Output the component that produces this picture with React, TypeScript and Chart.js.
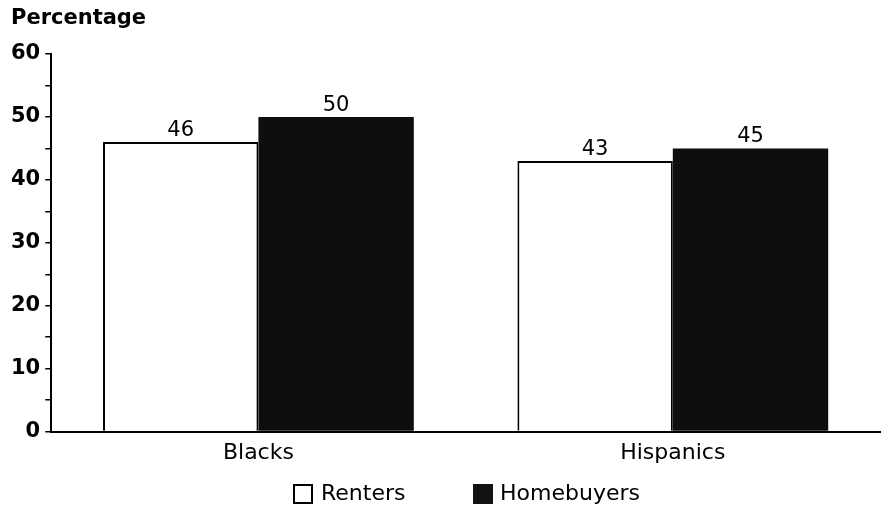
import React, { useEffect, useRef } from "react";
import { Chart, registerables } from "chart.js";

Chart.register(...registerables);

const categories = ["Blacks", "Hispanics"];
const renters = [46, 43];
const homebuyers = [50, 45];
const seriesNames = ["Renters", "Homebuyers"];
const yTitle = "Percentage";

const FONT = "'DejaVu Sans', 'Liberation Sans', Arial, sans-serif";

const overlayPlugin = {
  id: "overlay",
  afterDatasetsDraw(chart: any) {
    const ctx = chart.ctx;
    ctx.save();
    // value labels
    ctx.fillStyle = "#000";
    ctx.font = `normal 21px ${FONT}`;
    ctx.textAlign = "center";
    ctx.textBaseline = "bottom";
    chart.data.datasets.forEach((ds: any, di: number) => {
      const meta = chart.getDatasetMeta(di);
      meta.data.forEach((bar: any, i: number) => {
        ctx.fillText(String(ds.data[i]), bar.x, bar.y - 1);
      });
    });
    // title
    ctx.font = `bold 21px ${FONT}`;
    ctx.textAlign = "left";
    ctx.textBaseline = "middle";
    ctx.fillText(yTitle, 11, 19);
    // legend
    const ly = 494;
    ctx.font = `normal 22px ${FONT}`;
    ctx.lineWidth = 2;
    ctx.strokeStyle = "#000";
    ctx.fillStyle = "#fff";
    ctx.fillRect(294, ly - 9, 18, 18);
    ctx.strokeRect(294, ly - 9, 18, 18);
    ctx.fillStyle = "#000";
    ctx.fillText(seriesNames[0], 321, ly);
    ctx.fillStyle = "#111";
    ctx.fillRect(473, ly - 10, 20, 20);
    ctx.fillStyle = "#000";
    ctx.fillText(seriesNames[1], 500, ly);
    ctx.restore();
  },
};

export default function App() {
  const ref = useRef<HTMLCanvasElement | null>(null);
  useEffect(() => {
    if (!ref.current) return;
    const chart = new Chart(ref.current, {
      type: "bar",
      data: {
        labels: categories,
        datasets: [
          {
            label: seriesNames[0],
            data: renters,
            backgroundColor: "#ffffff",
            borderColor: "#000000",
            borderWidth: 2,
            borderSkipped: "bottom",
            categoryPercentage: 0.75,
            barPercentage: 1,
          },
          {
            label: seriesNames[1],
            data: homebuyers,
            backgroundColor: "#0e0e0e",
            borderColor: "#0e0e0e",
            borderWidth: 0,
            categoryPercentage: 0.75,
            barPercentage: 1,
          },
        ],
      },
      options: {
        animation: false,
        responsive: true,
        maintainAspectRatio: false,
        layout: { padding: { top: 54, left: 6, right: 1, bottom: 33 } },
        plugins: {
          legend: { display: false },
          tooltip: { enabled: false },
          title: { display: false },
        },
        scales: {
          x: {
            grid: { display: false, drawTicks: false },
            border: { display: true, color: "#000", width: 2 },
            ticks: {
              color: "#000",
              padding: 8,
              font: { family: FONT, size: 22, weight: "normal" },
            },
          },
          y: {
            min: 0,
            max: 60,
            grid: {
              display: true,
              drawOnChartArea: false,
              drawTicks: true,
              tickLength: 6,
              color: "#000",
              lineWidth: 1.5,
            },
            border: { display: true, color: "#000", width: 2 },
            ticks: {
              stepSize: 5,
              color: "#000",
              padding: 5,
              font: { family: FONT, size: 21, weight: "bold" },
              callback: (v: any) => (Number(v) % 10 === 0 ? String(v) : ""),
            },
          },
        },
      },
      plugins: [overlayPlugin],
    });
    return () => chart.destroy();
  }, []);
  return (
    <div style={{ position: "absolute", left: 0, top: 0, width: 881, height: 507, background: "#fff" }}>
      <canvas ref={ref} />
    </div>
  );
}
